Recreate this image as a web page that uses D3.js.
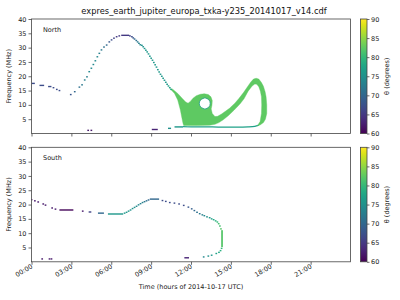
<!DOCTYPE html>
<html>
<head>
<meta charset="utf-8">
<script src="https://cdn.jsdelivr.net/npm/d3@7"></script>
<style>
body { margin: 0; background: #ffffff; }
svg { display: block; font-family: "DejaVu Sans", sans-serif; }
</style>
</head>
<body>
<svg></svg>
<script>
const WIDTH = 400;
const HEIGHT = 300;

const TITLE = "expres_earth_jupiter_europa_txka-y235_20141017_v14.cdf";
const X_LABEL = "Time (hours of 2014-10-17 UTC)";
const Y_LABEL = "Frequency (MHz)";
const CB_LABEL = "θ (degrees)";
const HEMISPHERES = ["North", "South"];
const TIME_TICKS = [0, 3, 6, 9, 12, 15, 18, 21];
const TIME_LABELS = ["00:00", "03:00", "06:00", "09:00", "12:00", "15:00", "18:00", "21:00"];
const FREQ_TICKS = [5, 10, 15, 20, 25, 30, 35, 40];
const THETA_TICKS = [60, 65, 70, 75, 80, 85, 90];

// single samples: [time (h), frequency (MHz), theta (deg)]
const NORTH_DOTS = [
    [1.65, 16.0, 67], [1.9, 15.4, 67], [2.1, 15.0, 67], [2.95, 13.6, 68],
    [3.25, 14.6, 70], [3.6, 16.2, 71], [3.8, 17.0, 72], [4.0, 18.7, 73],
    [4.17, 19.8, 73], [4.34, 21.6, 74], [4.5, 22.8, 74], [4.65, 24.1, 74],
    [4.8, 25.4, 74], [4.95, 26.8, 74], [5.1, 28.0, 73], [5.26, 29.2, 72],
    [5.45, 30.2, 71], [5.65, 30.9, 70], [5.85, 32.0, 68], [6.02, 32.7, 67],
    [6.2, 33.3, 66], [6.4, 33.8, 65], [6.6, 34.1, 65],
    [7.4, 34.1, 66], [7.55, 33.8, 67], [7.65, 33.4, 68], [7.75, 33.0, 70],
    [7.88, 32.5, 71], [7.98, 32.0, 72], [8.08, 31.5, 73], [8.18, 31.0, 74],
    [8.3, 30.8, 75], [8.4, 30.3, 75], [8.5, 29.7, 76], [8.6, 29.1, 76],
    [8.7, 28.5, 76], [8.8, 27.8, 76], [8.9, 27.0, 76], [9.0, 26.3, 76],
    [9.1, 25.6, 76], [9.2, 24.8, 76], [9.3, 24.0, 76], [9.4, 23.2, 76],
    [9.5, 22.3, 76], [9.6, 21.5, 76], [9.7, 20.7, 76], [9.8, 20.0, 76],
    [9.9, 19.3, 76], [10.0, 18.6, 76], [10.1, 17.9, 76], [10.2, 17.2, 76],
    [10.3, 16.6, 77], [10.4, 16.0, 77], [10.5, 15.4, 78],
    [4.26, 1.1, 62], [4.5, 1.1, 62]
];

// runs: [t0 (h), t1 (h), f0 (MHz), f1 (MHz), theta (deg)]
const NORTH_RUNS = [
    [0.0, 0.25, 17.5, 17.5, 67], [0.6, 0.95, 16.8, 16.8, 67],
    [1.25, 1.5, 16.4, 16.4, 67], [6.75, 7.35, 34.3, 34.3, 65],
    [9.05, 9.5, 1.4, 1.4, 63], [10.27, 10.5, 1.8, 1.8, 75],
    [10.76, 11.4, 2.3, 2.3, 76]
];

// wide emission band (time, frequency) outline, with the hole inside it
const NORTH_BAND_OUTER = [
    [10.45, 15.6], [10.62, 15.5], [11.0, 14.0], [11.35, 12.2], [11.6, 11.0],
    [11.78, 10.6], [11.95, 11.2], [12.15, 12.3], [12.4, 13.2], [12.7, 13.7],
    [13.0, 13.9], [13.3, 13.6], [13.5, 12.8], [13.6, 11.5], [13.58, 10.0],
    [13.52, 8.6], [13.6, 7.0], [13.8, 5.9], [14.0, 6.0], [14.3, 6.8],
    [14.9, 8.8], [15.3, 10.6], [15.6, 12.2], [15.95, 14.3], [16.25, 16.3],
    [16.5, 18.0], [16.7, 19.0], [16.9, 19.3], [17.1, 19.0], [17.3, 17.8],
    [17.45, 16.5], [17.58, 14.5], [17.65, 12.8], [17.7, 10.0], [17.7, 7.0],
    [17.6, 5.0], [17.45, 3.8], [17.2, 3.0], [17.0, 2.7],
    [17.2, 4.2], [17.3, 7.0], [17.32, 10.0], [17.3, 12.8], [17.22, 14.8],
    [17.1, 16.3], [16.95, 17.2], [16.8, 17.3], [16.6, 16.6], [16.3, 14.8],
    [16.0, 12.2], [15.7, 10.4], [15.25, 8.2], [14.8, 6.2], [14.4, 4.7],
    [14.1, 3.8], [13.8, 3.2], [13.4, 2.9], [12.5, 2.8], [11.45, 2.8],
    [11.4, 3.5], [11.3, 5.8], [11.2, 8.2], [11.0, 11.7], [10.76, 14.0],
    [10.5, 15.3]
];
const NORTH_BAND_HOLE = [
    [12.62, 10.5], [12.66, 11.3], [12.78, 12.0], [13.05, 12.5], [13.3, 12.0],
    [13.42, 11.3], [13.45, 10.5], [13.42, 9.7], [13.3, 9.0], [13.05, 8.5],
    [12.78, 9.0], [12.66, 9.7]
];
const NORTH_BAND_THETA = 82.5;
const NORTH_HOLE_THETA = 76;
const NORTH_LOOP_BASE = [
    [11.4, 2.4], [12.5, 2.3], [13.6, 2.3], [14.5, 2.2], [15.5, 2.2],
    [16.3, 2.3], [16.8, 2.5], [17.1, 2.9]
];
const NORTH_LOOP_THETA = 77;

const SOUTH_DOTS = [
    [0.0, 21.7, 61], [0.25, 21.3, 62], [0.5, 20.9, 62], [0.88, 20.2, 62],
    [1.05, 19.8, 62], [1.55, 18.8, 62], [1.8, 18.4, 62], [3.85, 17.7, 62],
    [7.0, 17.0, 76], [7.15, 17.3, 76], [7.3, 17.7, 76], [7.45, 18.1, 75],
    [7.6, 18.6, 75], [7.75, 19.0, 75], [7.9, 19.4, 74], [8.05, 19.9, 74],
    [8.2, 20.3, 73], [8.35, 20.7, 73], [8.5, 21.0, 72], [8.65, 21.3, 71],
    [8.8, 21.6, 70],
    [9.85, 21.4, 67], [10.1, 21.1, 67], [10.4, 20.7, 67], [10.75, 20.5, 67],
    [11.1, 20.2, 67], [11.45, 19.7, 67], [11.8, 19.1, 68], [12.05, 18.5, 69],
    [12.25, 17.9, 70], [12.45, 17.3, 71], [12.65, 16.8, 72], [12.85, 16.4, 73],
    [13.0, 16.1, 74], [13.2, 15.7, 75], [13.4, 15.4, 76], [13.55, 15.0, 77],
    [13.7, 14.7, 78], [13.85, 14.3, 79], [13.98, 13.9, 80], [14.08, 13.3, 81],
    [14.17, 12.5, 81], [14.25, 11.5, 82],
    [14.3, 4.7, 80], [14.22, 3.9, 79], [14.1, 3.3, 78], [13.9, 2.9, 77],
    [13.55, 2.3, 76], [13.3, 2.0, 75], [12.95, 1.7, 74],
    [0.8, 1.0, 62], [1.35, 1.0, 62], [1.5, 1.0, 62]
];

const SOUTH_RUNS = [
    [2.1, 3.15, 18.1, 18.1, 60.5], [4.3, 4.5, 17.4, 17.4, 66],
    [5.0, 5.45, 17.0, 17.0, 70], [5.75, 6.9, 16.7, 16.7, 76],
    [8.9, 9.6, 21.9, 21.9, 70], [14.27, 14.4, 5.4, 10.8, 82],
    [11.5, 11.85, 1.4, 1.4, 63]
];

const PANELS = [
    { name: HEMISPHERES[0], dots: NORTH_DOTS, runs: NORTH_RUNS, top: 19 },
    { name: HEMISPHERES[1], dots: SOUTH_DOTS, runs: SOUTH_RUNS, top: 147.3 }
];

const PLOT_LEFT = 31.5, PLOT_RIGHT = 350.5, PLOT_H = 114.5;
const CB_LEFT = 360.5, CB_W = 6.5;
const AXIS_COLOR = "#444444";

const x = d3.scaleLinear().domain([0, 24]).range([PLOT_LEFT, PLOT_RIGHT]);
const color = d3.scaleSequential(d3.interpolateViridis).domain([60, 90]);

function drawPanel(svg, panel, i, showLabels) {
    const y = d3.scaleLinear().domain([0, 40]).range([panel.top + PLOT_H, panel.top]);

    svg.append("clipPath")
        .attr("id", "clip" + i)
        .append("rect")
        .attr("x", PLOT_LEFT).attr("y", panel.top)
        .attr("width", PLOT_RIGHT - PLOT_LEFT).attr("height", PLOT_H);

    const g = svg.append("g").attr("clip-path", `url(#clip${i})`);

    if (i === 0) {
        g.append("path")
            .attr("d", d3.line().x(d => x(d[0])).y(d => y(d[1])).curve(d3.curveMonotoneX)(NORTH_LOOP_BASE))
            .style("fill", "none")
            .style("stroke", color(NORTH_LOOP_THETA))
            .style("stroke-width", 1.3);

        const closed = d3.line().x(d => x(d[0])).y(d => y(d[1])).curve(d3.curveLinearClosed);
        g.append("path")
            .attr("d", closed(NORTH_BAND_OUTER) + closed(NORTH_BAND_HOLE))
            .attr("fill-rule", "evenodd")
            .style("fill", color(NORTH_BAND_THETA))
            .style("stroke", color(NORTH_BAND_THETA))
            .style("stroke-width", 0.4);

        g.append("path")
            .attr("d", closed(NORTH_BAND_HOLE))
            .style("fill", "none")
            .style("stroke", color(NORTH_HOLE_THETA))
            .style("stroke-width", 0.7);
    }

    g.selectAll("rect.run")
        .data(panel.runs)
        .enter().append("rect")
        .attr("class", "run")
        .attr("x", d => x(d[0]))
        .attr("width", d => Math.max(x(d[1]) - x(d[0]), 1.6))
        .attr("y", d => y(d[3]) - 0.7)
        .attr("height", d => Math.max(y(d[2]) - y(d[3]), 0) + 1.4)
        .style("fill", d => color(d[4]));

    g.selectAll("rect.dot")
        .data(panel.dots)
        .enter().append("rect")
        .attr("class", "dot")
        .attr("x", d => x(d[0]) - 0.8)
        .attr("y", d => y(d[1]) - 0.7)
        .attr("width", 1.7)
        .attr("height", 1.4)
        .style("fill", d => color(d[2]));

    // axes
    const yAxis = svg.append("g")
        .attr("transform", `translate(${PLOT_LEFT},0)`)
        .call(d3.axisLeft(y).tickValues(FREQ_TICKS).tickSize(3).tickPadding(2));
    const xAxis = svg.append("g")
        .attr("transform", `translate(0,${panel.top + PLOT_H})`)
        .call(d3.axisBottom(x).tickValues(TIME_TICKS).tickSize(3)
            .tickFormat((d, k) => showLabels ? TIME_LABELS[k] : ""));
    [yAxis, xAxis].forEach(a => {
        a.select(".domain").remove();
        a.selectAll("line").style("stroke", AXIS_COLOR).style("stroke-width", 0.8);
        a.selectAll("text").style("font-size", "6.5px").style("fill", "#222")
            .style("font-family", "DejaVu Sans, sans-serif");
    });
    if (showLabels) {
        xAxis.selectAll("text")
            .attr("text-anchor", "end")
            .attr("dy", "0.35em")
            .attr("transform", "translate(0,4) rotate(-30)")
            .attr("y", 0)
            .attr("x", 0);
    }

    svg.append("rect")
        .attr("x", PLOT_LEFT).attr("y", panel.top)
        .attr("width", PLOT_RIGHT - PLOT_LEFT).attr("height", PLOT_H)
        .style("fill", "none").style("stroke", AXIS_COLOR).style("stroke-width", 0.8);

    svg.append("text")
        .attr("x", 43).attr("y", panel.top + 12.5)
        .style("font-size", "6.5px").style("fill", "#222")
        .text(panel.name);

    svg.append("text")
        .attr("transform", `translate(11,${panel.top + PLOT_H / 2}) rotate(-90)`)
        .attr("text-anchor", "middle")
        .style("font-size", "6.5px").style("fill", "#222")
        .text(Y_LABEL);

    // colour bar
    const cy = d3.scaleLinear().domain([60, 90]).range([panel.top + PLOT_H, panel.top]);
    svg.append("rect")
        .attr("x", CB_LEFT).attr("y", panel.top)
        .attr("width", CB_W).attr("height", PLOT_H)
        .style("fill", "url(#viridis)")
        .style("stroke", AXIS_COLOR).style("stroke-width", 0.8);
    const cAxis = svg.append("g")
        .attr("transform", `translate(${CB_LEFT + CB_W},0)`)
        .call(d3.axisRight(cy).tickValues(THETA_TICKS).tickSize(2.5).tickPadding(1.5));
    cAxis.select(".domain").remove();
    cAxis.selectAll("line").style("stroke", AXIS_COLOR).style("stroke-width", 0.8);
    cAxis.selectAll("text").style("font-size", "6.5px").style("fill", "#222")
        .style("font-family", "DejaVu Sans, sans-serif");
    svg.append("text")
        .attr("transform", `translate(389,${panel.top + PLOT_H / 2}) rotate(-90)`)
        .attr("text-anchor", "middle")
        .style("font-size", "6.5px").style("fill", "#222")
        .text(CB_LABEL);
}

function drawChart(svg) {
    svg.attr("width", WIDTH).attr("height", HEIGHT);

    const grad = svg.append("defs").append("linearGradient")
        .attr("id", "viridis")
        .attr("x1", 0).attr("y1", 1).attr("x2", 0).attr("y2", 0);
    d3.range(0, 1.0001, 0.05).forEach(s => {
        grad.append("stop").attr("offset", s).attr("stop-color", d3.interpolateViridis(s));
    });

    svg.append("text")
        .attr("x", 204).attr("y", 14)
        .attr("text-anchor", "middle")
        .style("font-size", "8.3px").style("fill", "#111")
        .text(TITLE);

    PANELS.forEach((p, i) => drawPanel(svg, p, i, i === 1));

    svg.append("text")
        .attr("x", 191).attr("y", 289)
        .attr("text-anchor", "middle")
        .style("font-size", "6.5px").style("fill", "#222")
        .text(X_LABEL);
}

drawChart(d3.select("svg"));
</script>
</body>
</html>
